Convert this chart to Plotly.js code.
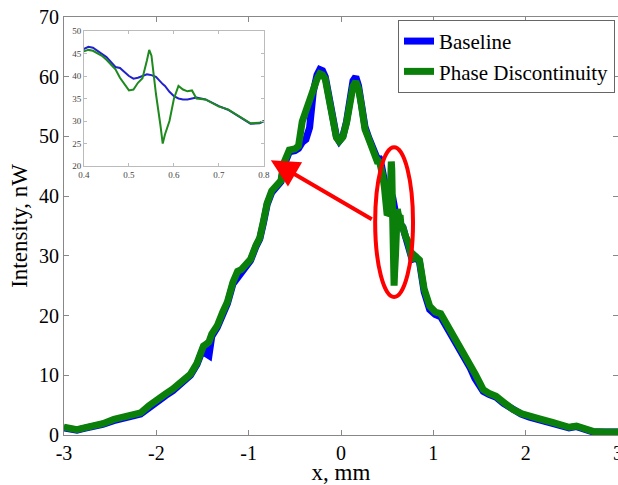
<!DOCTYPE html>
<html>
<head>
<meta charset="utf-8">
<script src="https://cdn.plot.ly/plotly-3.0.1.min.js"></script>
<style>html,body{margin:0;padding:0;background:#fff}#chart{width:618px;height:485px}</style>
</head>
<body>
<div id="chart"></div>
<script>
// Position along x (mm)
const xPos = [-3.00,-2.93,-2.86,-2.78,-2.68,-2.58,-2.46,-2.36,-2.25,-2.17,-2.08,-1.99,-1.90,-1.82,-1.72,-1.63,-1.56,-1.49,-1.46,-1.43,-1.40,-1.34,-1.28,-1.23,-1.17,-1.12,-1.08,-1.02,-0.98,-0.92,-0.88,-0.84,-0.80,-0.75,-0.70,-0.65,-0.62,-0.56,-0.50,-0.46,-0.42,-0.38,-0.34,-0.30,-0.26,-0.23,-0.20,-0.17,-0.14,-0.11,-0.08,-0.05,-0.02,0.02,0.06,0.10,0.13,0.16,0.19,0.22,0.26,0.30,0.35,
  0.40,0.41,0.42,0.44,0.45,0.47,0.48,0.50,0.51,0.52,0.53,0.54,0.545,0.55,0.56,0.57,0.575,0.58,0.59,0.60,0.61,0.62,0.63,0.64,0.65,0.67,0.70,0.72,0.75,0.77,0.79,0.80,
  0.85,0.90,0.96,1.02,1.08,1.13,1.18,1.24,1.29,1.35,1.40,1.45,1.50,1.54,1.60,1.68,1.76,1.86,1.95,2.04,2.15,2.29,2.40,2.47,2.55,2.62,2.73,2.85,3.00];
// Baseline intensity (nW)
const baseline = [1.2,0.9,0.8,1.1,1.4,1.8,2.4,2.9,3.2,3.5,4.6,5.7,6.6,7.4,8.6,10.0,11.8,14.6,13.6,13.3,16.5,18.0,20.2,22.0,25.3,26.4,27.5,28.4,29.2,31.6,32.8,35.5,38.6,40.6,41.6,42.4,45.0,47.4,47.6,48.0,49.0,49.5,51.5,57.5,60.3,61.2,61.0,60.0,57.5,55.0,52.5,50.0,49.2,50.0,52.5,56.0,59.3,60.0,58.5,55.5,51.6,49.8,47.8,
  46.0,46.5,46.3,45.0,44.2,42.0,41.8,40.0,39.4,39.6,40.0,40.4,40.3,40.2,39.8,38.6,38.2,37.8,36.5,35.5,35.0,34.8,34.8,35.0,35.2,34.8,33.3,32.5,30.6,29.4,29.5,30.0,
  29.0,24.0,21.0,20.2,19.8,18.5,17.2,15.2,13.8,12.4,11.2,9.5,8.2,7.3,6.8,6.3,5.3,4.2,3.5,3.0,2.6,2.0,1.5,1.2,1.4,1.0,0.5,0.5,0.5];
// Phase discontinuity intensity (nW)
const phase = [1.3,1.0,0.9,1.2,1.5,1.9,2.6,3.0,3.4,3.7,4.9,6.0,6.9,7.7,8.9,10.2,12.0,14.9,15.2,15.6,16.9,18.3,20.6,22.3,25.6,27.4,27.7,28.7,29.4,31.8,33.0,35.8,38.8,40.9,41.8,42.6,45.5,47.7,47.9,48.4,52.5,54.5,56.0,58.0,59.6,60.5,60.3,59.6,57.3,55.0,52.4,49.8,49.2,49.9,52.3,55.6,58.4,59.2,58.0,55.3,51.2,49.6,47.6,
  45.5,45.8,45.6,44.5,43.6,41.5,39.6,36.8,37.0,38.5,39.5,43.5,45.8,44.5,36.0,29.0,25.0,27.0,30.0,35.0,37.8,37.0,36.6,36.8,35.0,34.8,33.2,32.6,30.8,29.5,29.6,30.0,
  29.3,24.5,21.6,20.6,20.3,19.0,17.8,15.8,14.4,13.0,11.6,10.3,8.8,7.6,7.0,6.5,5.5,4.3,3.6,3.1,2.7,2.1,1.6,1.3,1.5,1.1,0.6,0.5,0.5];

const seriesNames = ['Baseline', 'Phase Discontinuity'];
const xTicks = [-3,-2,-1,0,1,2,3];
const yTicks = [0,10,20,30,40,50,60,70];
const insetXTicks = [0.4,0.5,0.6,0.7,0.8];
const insetYTicks = [20,25,30,35,40,45,50];

const BLUE = '#0000ff', GREEN = '#0a800a';
const serif = '"Liberation Serif","Times New Roman",serif';

const traces = [
  {x: xPos, y: baseline, name: seriesNames[0], type: 'scatter', mode: 'lines',
   line: {color: BLUE, width: 7}, xaxis: 'x', yaxis: 'y'},
  {x: xPos, y: phase, name: seriesNames[1], type: 'scatter', mode: 'lines',
   line: {color: GREEN, width: 7}, xaxis: 'x', yaxis: 'y'},
  {x: xPos, y: baseline, showlegend: false, type: 'scatter', mode: 'lines',
   line: {color: '#2222cc', width: 2}, xaxis: 'x2', yaxis: 'y2'},
  {x: xPos, y: phase, showlegend: false, type: 'scatter', mode: 'lines',
   line: {color: '#1e8a1e', width: 2}, xaxis: 'x2', yaxis: 'y2'}
];

const axisCommon = {showgrid: false, zeroline: false, showline: true, linecolor: '#888',
  linewidth: 1, ticks: 'inside', ticklen: 5, tickcolor: '#888', mirror: 'ticks',
  ticklabeloverflow: 'allow'};

const layout = {
  width: 618, height: 485,
  margin: {l: 64, r: 0, t: 17, b: 50},
  paper_bgcolor: '#fff', plot_bgcolor: '#fff',
  font: {family: serif, color: '#000', size: 20},
  showlegend: true,
  legend: {x: 0.9946, y: 0.993, xanchor: 'right', yanchor: 'top',
    bgcolor: '#fff', bordercolor: '#666', borderwidth: 1,
    font: {family: serif, size: 21, color: '#000'}, tracegroupgap: 0,
    itemwidth: 30},
  xaxis: Object.assign({}, axisCommon, {range: [-3, 3], tickvals: xTicks,
    ticktext: xTicks.map(String), tickfont: {size: 20},
    title: {text: 'x, mm', font: {size: 23}, standoff: 2}}),
  yaxis: Object.assign({}, axisCommon, {range: [0, 70], tickvals: yTicks,
    tickfont: {size: 20},
    title: {text: 'Intensity, nW', font: {size: 23}, standoff: 4}}),
  xaxis2: {domain: [0.036, 0.361], anchor: 'y2', range: [0.4, 0.8], tickvals: insetXTicks,
    ticktext: insetXTicks.map(v => v.toFixed(1)),
    showgrid: false, zeroline: false, showline: true, linecolor: '#bbb', mirror: 'ticks',
    ticks: 'inside', ticklen: 3, tickcolor: '#bbb',
    tickfont: {size: 9, color: '#444'}},
  yaxis2: {domain: [0.6435, 0.9665], anchor: 'x2', range: [20, 50], tickvals: insetYTicks,
    showgrid: false, zeroline: false, showline: true, linecolor: '#bbb', mirror: 'ticks',
    ticks: 'inside', ticklen: 3, tickcolor: '#bbb',
    tickfont: {size: 9, color: '#444'}},
  shapes: [
    {type: 'circle', xref: 'x', yref: 'y', x0: 0.37, x1: 0.78, y0: 23.1, y1: 48.2,
     line: {color: '#ff0000', width: 4}, layer: 'above'}
  ],
  annotations: [
    {x: -0.76, y: 46.0, ax: 0.35, ay: 36.0, xref: 'x', yref: 'y', axref: 'x', ayref: 'y',
     text: '', showarrow: true, arrowhead: 2, arrowsize: 1.4, arrowwidth: 4, arrowcolor: '#ff0000'}
  ]
};

Plotly.newPlot('chart', traces, layout, {displayModeBar: false, staticPlot: true});
</script>
</body>
</html>
